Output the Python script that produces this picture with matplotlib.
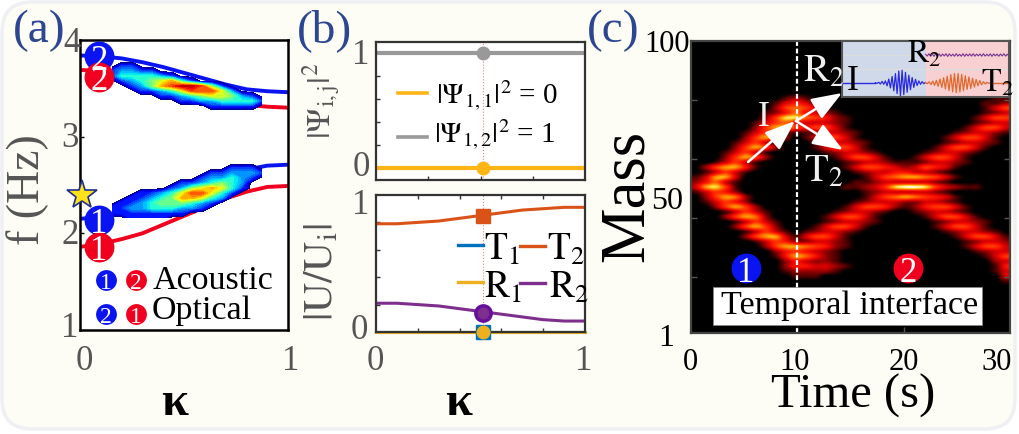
import numpy as np
import matplotlib
matplotlib.use("Agg")
import matplotlib.pyplot as plt
from matplotlib.colors import LinearSegmentedColormap
from matplotlib.patches import FancyBboxPatch, Rectangle

plt.rcParams['font.family'] = ['Liberation Serif', 'DejaVu Serif']
plt.rcParams['mathtext.fontset'] = 'stix'

W, H = 1019, 435

# panel a: dispersion curves
kappa = [0, .1, .2, .3, .4, .5, .6, .7, .8, .9, 1]
blue_low = [2.15, 2.17, 2.21, 2.27, 2.35, 2.43, 2.52, 2.60, 2.66, 2.70, 2.71]
red_low = [1.86, 1.89, 1.94, 2.00, 2.09, 2.18, 2.27, 2.36, 2.43, 2.48, 2.49]
blue_up = [3.84, 3.83, 3.81, 3.77, 3.72, 3.66, 3.60, 3.54, 3.49, 3.47, 3.46]
red_up = [3.69, 3.68, 3.65, 3.61, 3.56, 3.50, 3.44, 3.38, 3.33, 3.31, 3.30]

# spectrum blobs read on a coarse grid, top row first (0 = nothing)
blob_up = [
    "0000000000000000",
    "0220000000000000",
    "2332200000000000",
    "2444432000000000",
    "0234567420000000",
    "0023578998520000",
    "0002234688863000",
    "0000022345665320",
    "0000000223344442",
    "0000000000222220",
    "0000000000000000",
]
blob_low = [
    "0000000000000000",
    "0000000000002220",
    "0000000000223332",
    "0000000002334320",
    "0000000223454300",
    "0000002356764200",
    "0002234688642000",
    "0022345776430000",
    "0223455543200000",
    "2233444332000000",
    "2222222200000000",
    "0022220000000000",
]

# panel b
kappa_b = [0, .1, .2, .3, .4, .5, .6, .7, .8, .9, 1]
psi_11 = [0, 0, 0, 0, 0, 0, 0, 0, 0, 0, 0]
psi_12 = [1, 1, 1, 1, 1, 1, 1, 1, 1, 1, 1]
t1 = [0, 0, 0, 0, 0, 0, 0, 0, 0, 0, 0]
r1 = [0, 0, 0, 0, 0, 0, 0, 0, 0, 0, 0]
t2 = [.79, .79, .80, .81, .83, .85, .87, .89, .90, .91, .91]
r2 = [.21, .21, .20, .19, .17, .15, .13, .11, .09, .08, .08]
kappa_mark = .51

# panel c: intensity map, top row first, digit 0-9
map_rows = ["0000000000 0000000000 0000000000 00"] * 11 + [
    "0000000001 2100000000 0000000000 11",
    "0000000013 4310000000 0000000001 12",
    "0000000025 6531000000 0000000001 35",
    "0000000124 6432100000 0000000001 23",
    "0000000258 8654210000 0000000013 55",
    "0000001356 4333210000 0000000012 33",
    "0000002577 5455310000 0000000135 53",
    "0000013542 1123321000 0000001233 21",
    "0000025752 0135531000 0000013553 10",
    "0000135310 0012332100 0000012332 10",
    "0000257520 0013553100 0000135531 00",
    "0001353100 0001233210 0001233210 00",
    "0002575200 0000135531 0013553100 00",
    "0013531000 0000012332 1112332100 00",
    "0257741000 0000013554 3235431000 00",
    "0135310000 0000001233 4433210000 00",
    "1377300000 0000000135 6776531000 00",
    "2463100000 0000001123 3333210000 00",
    "3785100000 0000011235 8998532110 00",
    "1354200000 0000000123 3333210000 00",
    "0257620000 0000000135 6765431000 00",
    "0135420000 0000001233 3223321000 00",
    "0025752000 0000013554 2124553100 00",
    "0001353100 0000123321 0012332100 00",
    "0002576200 0001355310 0001355310 00",
    "0000135310 0001233210 0000123321 00",
    "0000257520 0013553100 0000135531 00",
    "0000013531 0123321000 0000012332 10",
    "0000025773 1355310000 0000001355 31",
    "0000001354 2233210000 0000000123 32",
    "0000000257 7654210000 0000000135 53",
    "0000000024 5432100000 0000000012 33",
    "0000000014 7642100000 0000000001 35",
    "0000000002 4322100000 0000000000 23",
    "0000000002 4433210000 0000000000 14",
    "0000000001 2222100000 0000000000 13",
    "0000000000 1110000000 0000000000 03",
    "0000000000 0000000000 0000000000 01",
] + ["0000000000 0000000000 0000000000 00"] * 10
map_colors = ['#000000', '#500000', '#980000', '#d80000', '#f81000', '#ff3000',
              '#ff6000', '#ff9400', '#ffd838', '#fffbd0']

# inset wave packets, one value per half cycle
wave_i = [.02, -.03, .05, -.08, .12, -.1, .16, -.22, .3, -.38, .5, -.6, .72, -.82, .92, -1,
          .98, -.9, .82, -.72, .6, -.52, .42, -.34, .28, -.2, .16, -.1, .1, -.06, .04]
wave_t = [.04, -.06, .09, -.12, .14, -.18, .2, -.25, .3, -.34, .4, -.46, .52, -.58, .64, -.68, .72, -.74,
          .73, -.7, .66, -.6, .56, -.5, .46, -.42, .36, -.32, .27, -.22, .18, -.14, .1, -.08, .05, -.03, .02]
wave_r = [.06, -.08, .1, -.09, .07, -.1, .11, -.08, .09, -.1, .08, -.07, .1, -.11, .09, -.08, .07, -.09,
          .1, -.08, .06, -.09, .1, -.1, .08, -.07, .09, -.08, .1, -.09, .07, -.06, .08, -.09, .1, -.08,
          .06, -.07, .09, -.1, .08, -.06, .07, -.09, .08, -.07, .1, -.08, .06, -.07]

BLUE, RED = '#0a14f0', '#f0001e'
GRAY, NAVY = '#555555', '#2c4692'
C_T1, C_T2, C_R1, C_R2 = '#0072bd', '#d95319', '#edb120', '#7e2f8e'
C_P1, C_P2 = '#fdb515', '#999999'


def add_ax(x0, y0, x1, y1, **kw):
    return fig.add_axes([x0 / W, 1 - y1 / H, (x1 - x0) / W, (y1 - y0) / H], **kw)


def frame(ax, color='#222222', lw=1.6):
    for s in ax.spines.values():
        s.set_color(color)
        s.set_linewidth(lw)


def badge(ax, x, y, txt, color, ms=21.5, fs=25):
    ax.plot([x], [y], 'o', color=color, ms=ms, mec='none', clip_on=False, zorder=6)
    ax.text(x, y, txt, color='white', fontsize=fs, ha='center', va='center_baseline', zorder=7, clip_on=False)


fig = plt.figure(figsize=(W / 100, H / 100), dpi=100, facecolor='white')

bg = fig.add_axes([0, 0, 1, 1], zorder=0)
bg.set_xlim(0, W)
bg.set_ylim(H, 0)
bg.axis('off')
bg.add_patch(FancyBboxPatch((32, 33), W - 66, H - 68, boxstyle='round,pad=30,rounding_size=30',
                            fc='#fdfdf5', ec='#eef0f4', lw=2.5))

# (a)
ax_a = add_ax(80, 41, 288, 331, zorder=2)
ax_a.plot(kappa, blue_up, color=BLUE, lw=2.8)
ax_a.plot(kappa, red_up, color=RED, lw=2.8)
ax_a.plot(kappa, blue_low, color=BLUE, lw=2.8)
ax_a.plot(kappa, red_low, color=RED, lw=2.8)
lev = np.linspace(.5, 9.5, 25)
for rows, f0, f1 in [(blob_up, 3.783, 3.266), (blob_low, 2.728, 2.159)]:
    z = np.array([[int(c) for c in r] for r in rows], dtype=float)
    xs = np.linspace(.154, .875, z.shape[1])
    ys = np.linspace(f0, f1, z.shape[0])
    ax_a.contourf(xs, ys, z, levels=lev, cmap='jet', zorder=4)
ax_a.set_xlim(0, 1)
ax_a.set_ylim(1, 4)
ax_a.set_xticks([])
ax_a.set_yticks([2, 3])
ax_a.tick_params(direction='in', length=3, width=1, labelleft=False)
frame(ax_a, 'black', 1.8)
badge(ax_a, .09, 3.83, '2', BLUE)
badge(ax_a, .09, 3.62, '2', RED)
badge(ax_a, .09, 2.14, '1', BLUE)
badge(ax_a, .09, 1.86, '1', RED)
ax_a.plot([.01], [2.4], '*', color='#ffe21a', mec='#1f2f8f', mew=1.2, ms=22, clip_on=False, zorder=8)
for x, y, t, c in [(.125, 1.52, '1', BLUE), (.27, 1.52, '2', RED), (.125, 1.17, '2', BLUE), (.27, 1.17, '1', RED)]:
    badge(ax_a, x, y, t, c, ms=15, fs=17)

# (b) top
ax_b1 = add_ax(376, 43, 585, 181, zorder=2)
ax_b1.plot(kappa_b, psi_12, color=C_P2, lw=3)
ax_b1.plot(kappa_b, psi_11, color=C_P1, lw=3)
ax_b1.axvline(kappa_mark, color='#f08080', lw=.8, ls=':')
ax_b1.plot([kappa_mark], [1], 'o', color=C_P2, ms=9)
ax_b1.plot([kappa_mark], [0], 'o', color=C_P1, ms=9)
ax_b1.set_xlim(0, 1)
ax_b1.set_ylim(-.104, 1.096)
ax_b1.set_xticks([.25, .5, .75])
ax_b1.set_yticks([0, .2, .4, .6, .8, 1])
ax_b1.tick_params(direction='in', length=3, width=1, color='#333333', labelleft=False, labelbottom=False)
frame(ax_b1, '#333333')

# (b) bottom
ax_b2 = add_ax(376, 196, 585, 333, zorder=2)
ax_b2.plot(kappa_b, t1, color=C_T1, lw=2.2, clip_on=False)
ax_b2.plot(kappa_b, t2, color=C_T2, lw=2.2)
ax_b2.plot(kappa_b, r1, color=C_R1, lw=2.2, clip_on=False)
ax_b2.plot(kappa_b, r2, color=C_R2, lw=2.2)
ax_b2.axvline(kappa_mark, color='#f08080', lw=.8, ls=':')
ax_b2.plot([kappa_mark], [.85], 's', color=C_T2, ms=10.5, zorder=5)
ax_b2.plot([kappa_mark], [.14], 'o', color=C_R2, mec='#66109a', mew=2.5, ms=11, zorder=5)
ax_b2.plot([kappa_mark], [0], 's', color=C_T1, ms=10.5, clip_on=False, zorder=5)
ax_b2.plot([kappa_mark], [0], 'o', color=C_R1, ms=9, clip_on=False, zorder=6)
ax_b2.set_xlim(0, 1)
ax_b2.set_ylim(0, 1)
ax_b2.set_xticks([.2, .4, .6, .8])
ax_b2.set_yticks([.2, .4, .6, .8])
ax_b2.tick_params(direction='in', length=3, width=1, color='#333333', labelleft=False, labelbottom=False, top=True)
frame(ax_b2, '#333333')

# (c)
ax_c = add_ax(691, 42, 1010, 334, zorder=2)
m = np.array([[int(c) for c in r.replace(' ', '')] for r in map_rows])
cmap_c = LinearSegmentedColormap.from_list('map_c', map_colors)
ax_c.imshow(m, extent=[0, 30, 1, 100], aspect='auto', cmap=cmap_c, vmin=0, vmax=9, interpolation='catrom')
ax_c.axvline(10, color='white', lw=1.6, ls=(0, (2.2, 1.2)))
ax_c.set_xticks([10, 20])
ax_c.set_yticks([20, 40, 60, 80])
ax_c.tick_params(direction='in', length=4, width=1, color='#555555', labelleft=False, labelbottom=False, right=True)
frame(ax_c, '#444444')
badge(ax_c, 5.17, 23, '1', BLUE)
badge(ax_c, 20.4, 23, '2', RED)

# inset
ins = add_ax(842, 42, 1009, 98, zorder=3)
ins.add_patch(Rectangle((0, -2), .5, 7, fc='#cfd9ea', ec='none'))
ins.add_patch(Rectangle((.5, -2), .5, 7, fc='#f9d0d2', ec='none'))
ins.axhline(1.08, color='#dddddd', lw=1)
ins.axhline(2.15, color='#dddddd', lw=1)
ins.plot([0, .2], [0, 0], color='#2a2ae0', lw=1)
ins.plot(np.linspace(.2, .5, len(wave_i)), wave_i, color='#2a2ae0', lw=.9)
ins.plot(np.linspace(.5, .89, len(wave_t)), wave_t, color='#e0692d', lw=.9)
ins.plot([.89, 1], [0, 0], color='#e0692d', lw=1)
ins.plot(np.linspace(.5, 1, len(wave_r)), np.array(wave_r) + 2.15, color=C_R2, lw=.8)
ins.set_xlim(0, 1)
ins.set_ylim(-1.08, 3.23)
ins.set_xticks([])
ins.set_yticks([])
frame(ins, '#555555', 1.5)

# overlay in pixel coordinates for all hand placed labels
ov = fig.add_axes([0, 0, 1, 1], zorder=10)
ov.set_xlim(0, W)
ov.set_ylim(H, 0)
ov.axis('off')


def label(x, y, s, fs=23, color=GRAY, **kw):
    kw.setdefault('ha', 'center')
    kw.setdefault('va', 'center')
    ov.text(x, y, s, fontsize=fs, color=color, **kw)


label(39, 31, '(a)', 34, NAVY)
label(325, 31, '(b)', 34, NAVY)
label(613, 31, '(c)', 34, NAVY)

for x, y, s in [(72, 44, '4'), (70, 139, '3'), (70, 236, '2'), (70, 329, '1'), (84, 362, '0'), (291, 362, '1'),
                (361, 56, '1'), (361, 168, '0'), (361, 206, '1'), (359, 331, '0'), (375, 362, '0'), (584, 362, '1')]:
    label(x, y, s, 25)
label(28, 190, 'f (Hz)', 33, rotation=90)
label(175, 403, 'κ', 35, 'black', fontweight='bold')
label(459, 403, 'κ', 35, 'black', fontweight='bold')
label(322, 101, r'$|\Psi_{\mathrm{i,j}}|^2$', 24, rotation=90)
label(322, 272, r'$|\mathrm{U/U_i}|$', 30, rotation=90)

label(153, 281, 'Acoustic', 24.5, 'black', ha='left')
label(152, 311, 'Optical', 24.5, 'black', ha='left')

ov.plot([398, 427], [94, 94], color=C_P1, lw=2.6)
ov.plot([398, 427], [138, 138], color=C_P2, lw=2.6)
label(436, 96, r'$|\Psi_{1,1}|^2$ = 0', 21, 'black', ha='left')
label(434, 135, r'$|\Psi_{1,2}|^2$ = 1', 21, 'black', ha='left')

ov.plot([458, 483], [246, 246], color=C_T1, lw=2.4)
ov.plot([520, 545], [247, 247], color=C_T2, lw=2.4)
ov.plot([458, 483], [283, 283], color=C_R1, lw=2.4)
ov.plot([520, 545], [284, 284], color=C_R2, lw=2.4)
label(484, 250, r'$\mathrm{T}_1$', 27, 'black', ha='left')
label(547, 250, r'$\mathrm{T}_2$', 27, 'black', ha='left')
label(484, 288, r'$\mathrm{R}_1$', 27, 'black', ha='left')
label(549, 288, r'$\mathrm{R}_2$', 27, 'black', ha='left')

label(667, 45, '100', 22, 'black')
label(667, 202, '50', 23, 'black')
label(666, 339, '1', 23, 'black')
label(690, 363, '0', 22, 'black')
label(795, 363, '10', 22, 'black')
label(904, 363, '20', 22, 'black')
label(997, 363, '30', 22, 'black')
label(628, 196, 'Mass', 45, 'black', rotation=90)
label(853, 396, 'Time (s)', 35, 'black')

ov.add_patch(Rectangle((713, 288), 269, 38, fc='white', ec='#888888', lw=.5))
label(850, 305, 'Temporal interface', 24.5, 'black')

arrow = dict(arrowstyle='-|>,head_width=.32,head_length=.85', color='white', lw=1.8, shrinkA=0, shrinkB=0, mutation_scale=22)
ov.annotate('', xy=(795, 122), xytext=(748, 163), arrowprops=arrow)
ov.annotate('', xy=(842, 94), xytext=(796, 122), arrowprops=arrow)
ov.annotate('', xy=(843, 151), xytext=(796, 122), arrowprops=arrow)
label(764, 117, 'I', 26, '#f0f0f0')
label(824, 72, r'$\mathrm{R}_2$', 28, '#f0f0f0')
label(824, 172, r'$\mathrm{T}_2$', 28, '#f0f0f0')
label(853, 81, 'I', 26, 'black')
label(924, 55, r'$\mathrm{R}_2$', 23, 'black')
label(997, 84, r'$\mathrm{T}_2$', 23, 'black')

fig.savefig('out.png', dpi=100)
